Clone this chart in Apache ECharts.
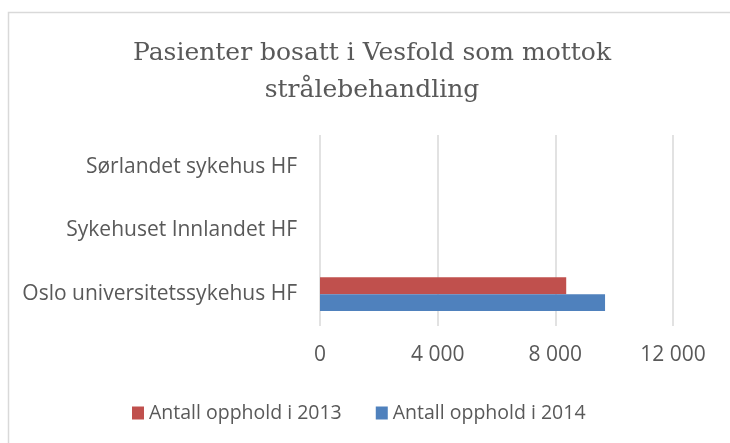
<!DOCTYPE html>
<html>
<head>
<meta charset="utf-8">
<script src="https://cdn.jsdelivr.net/npm/echarts@6/dist/echarts.min.js"></script>
<style>
  html, body { margin: 0; padding: 0; background: #fff; }
  #chart { width: 730px; height: 443px; }
</style>
</head>
<body>
<div id="chart"></div>
<script>
// data
const categories = ['Oslo universitetssykehus HF', 'Sykehuset Innlandet HF', 'Sørlandet sykehus HF'];
const opphold2013 = [8370, 0, 0];
const opphold2014 = [9690, 0, 0];
const xTicks = [0, 4000, 8000, 12000];

const titleText = 'Pasienter bosatt i Vesfold som mottok\nstrålebehandling';
const name2013 = 'Antall opphold i 2013';
const name2014 = 'Antall opphold i 2014';

const textColor = '#595959';
const gridColor = '#d9d9d9';
const labelFont = 'Open Sans';

const chart = echarts.init(document.getElementById('chart'));

const fmt = (v) => String(v).replace(/\B(?=(\d{3})+(?!\d))/g, ' ');

chart.setOption({
  backgroundColor: '#fff',
  animation: false,
  title: {
    text: titleText,
    left: 367, // anchor of the centred title (a bit right of the page centre)
    top: 30,
    textAlign: 'center',
    textStyle: {
      fontFamily: 'DejaVu Serif',
      fontWeight: 'normal',
      fontSize: 25,
      lineHeight: 37,
      color: textColor
    }
  },
  // outer chart frame
  graphic: [{
    type: 'rect',
    shape: { x: 8.5, y: 12.5, width: 740, height: 450 },
    style: { fill: 'none', stroke: gridColor, lineWidth: 1.5 },
    silent: true
  }],
  grid: { left: 320, right: 57, top: 135, bottom: 117 },
  xAxis: {
    type: 'value',
    min: xTicks[0],
    max: xTicks[xTicks.length - 1],
    interval: xTicks[1] - xTicks[0],
    axisLine: { show: false },
    axisTick: { show: false },
    axisLabel: {
      margin: 19,
      color: textColor,
      fontFamily: labelFont,
      fontSize: 21,
      formatter: fmt
    },
    splitLine: { lineStyle: { color: gridColor, width: 1.5 } }
  },
  yAxis: {
    type: 'category',
    data: categories,
    axisLine: { show: false },
    axisTick: { show: false },
    axisLabel: {
      margin: 23,
      color: textColor,
      fontFamily: labelFont,
      fontSize: 21
    }
  },
  legend: {
    data: [name2013, name2014],
    left: 127,
    top: 398,
    itemWidth: 12,
    itemHeight: 13,
    itemGap: 34,
    icon: 'rect',
    textStyle: { color: textColor, fontFamily: labelFont, fontSize: 19.5 }
  },
  series: [
    {
      name: name2013,
      type: 'bar',
      data: opphold2013,
      barGap: '0%',
      barCategoryGap: '47%',
      itemStyle: { color: '#c0504d' }
    },
    {
      name: name2014,
      type: 'bar',
      data: opphold2014,
      barGap: '0%',
      barCategoryGap: '47%',
      itemStyle: { color: '#4f81bd' }
    }
  ]
});
</script>
</body>
</html>
